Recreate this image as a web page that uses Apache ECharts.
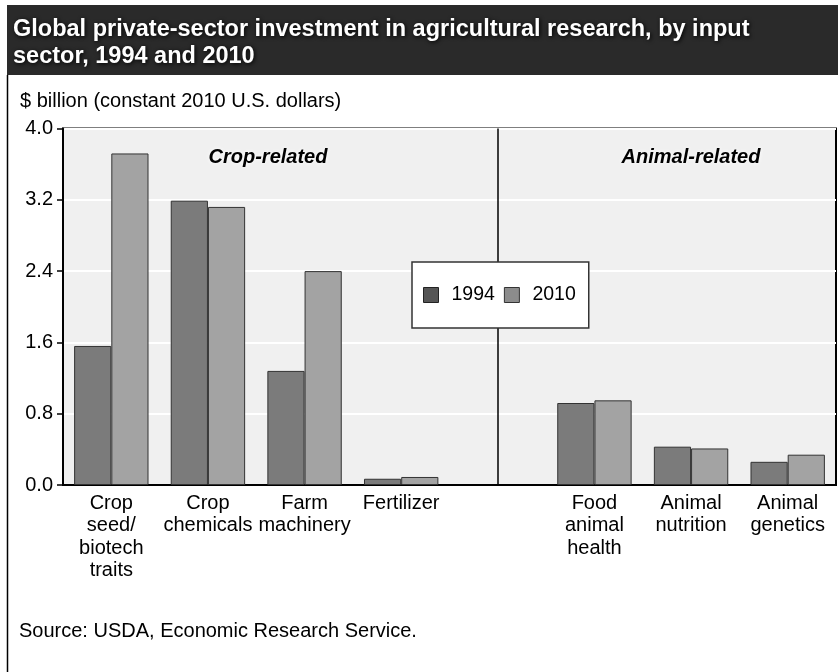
<!DOCTYPE html>
<html>
<head>
<meta charset="utf-8">
<script src="https://cdn.jsdelivr.net/npm/echarts@6/dist/echarts.min.js"></script>
<style>
html,body{margin:0;padding:0;background:#fff;}
#chart{width:838px;height:672px;}
</style>
</head>
<body>
<div id="chart"></div>
<script>
const categories = ['Crop\nseed/\nbiotech\ntraits', 'Crop\nchemicals', 'Farm\nmachinery', 'Fertilizer', '', 'Food\nanimal\nhealth', 'Animal\nnutrition', 'Animal\ngenetics'];
const values1994 = [1.56, 3.19, 1.28, 0.07, null, 0.92, 0.43, 0.26];
const values2010 = [3.72, 3.12, 2.40, 0.09, null, 0.95, 0.41, 0.34];
const yTicks = [0, 0.8, 1.6, 2.4, 3.2, 4.0];
const dividerIndex = 4;
const titleText = 'Global private-sector investment in agricultural research, by input\nsector, 1994 and 2010';
const unitText = '$ billion (constant 2010 U.S. dollars)';
const sourceText = 'Source: USDA, Economic Research Service.';
const groupLabels = ['Crop-related', 'Animal-related'];

const FONT = '"Liberation Sans", Arial, sans-serif';
const chart = echarts.init(document.getElementById('chart'));

const option = {
  animation: false,
  backgroundColor: '#ffffff',
  textStyle: { fontFamily: FONT },
  graphic: [
    { type: 'rect', shape: { x: 7, y: 5, width: 831, height: 70 }, style: { fill: '#2a2a2a' }, z: 0 },
    { type: 'line', shape: { x1: 7.5, y1: 75, x2: 7.5, y2: 672 }, style: { stroke: '#000', lineWidth: 1.5 }, z: 0 },
    { type: 'text', left: 13, top: 16, z: 5, style: {
        text: titleText, fill: '#ffffff', font: 'bold 23.5px ' + FONT,
        lineHeight: 27, textShadowColor: '#000', textShadowBlur: 4, textShadowOffsetX: 1, textShadowOffsetY: 1 } },
    { type: 'text', left: 20, top: 91, z: 5, style: { text: unitText, fill: '#000', font: '20px ' + FONT } },
    { type: 'text', left: 19, top: 621, z: 5, style: { text: sourceText, fill: '#000', font: '20px ' + FONT } },
    { type: 'text', x: 268, y: 157, z: 5, style: { text: groupLabels[0], fill: '#000', font: 'italic bold 20px ' + FONT,
        textAlign: 'center', textVerticalAlign: 'middle', textShadowColor: '#fff', textShadowBlur: 4 } },
    { type: 'text', x: 691, y: 157, z: 5, style: { text: groupLabels[1], fill: '#000', font: 'italic bold 20px ' + FONT,
        textAlign: 'center', textVerticalAlign: 'middle', textShadowColor: '#fff', textShadowBlur: 4 } }
  ],
  legend: {
    left: 412, top: 262,
    orient: 'horizontal',
    backgroundColor: '#ffffff',
    borderColor: '#333',
    borderWidth: 1.5,
    padding: [23, 13, 23, 11],
    itemWidth: 15, itemHeight: 15, itemGap: 9,
    icon: 'rect',
    textStyle: { fontSize: 19.5, color: '#000', fontFamily: FONT, padding: [0, 0, 0, 8] },
    data: [
      { name: '1994', itemStyle: { color: '#555555', borderColor: '#222', borderWidth: 1 } },
      { name: '2010', itemStyle: { color: '#8c8c8c', borderColor: '#333', borderWidth: 1 } }
    ],
    z: 10
  },
  grid: {
    left: 63, top: 128.5, right: 2, bottom: 187,
    show: true, backgroundColor: '#f0f0f0', borderColor: '#000', borderWidth: 2, containLabel: false
  },
  xAxis: {
    type: 'category',
    data: categories,
    axisLine: { show: true, lineStyle: { color: '#000', width: 2 } },
    axisTick: { show: false },
    axisLabel: { color: '#000', fontSize: 20, lineHeight: 22.5, margin: 7, interval: 0, fontFamily: FONT },
    splitLine: { show: false }
  },
  yAxis: {
    type: 'value',
    min: yTicks[0], max: yTicks[yTicks.length - 1], interval: 0.8,
    axisLine: { show: true, lineStyle: { color: '#000', width: 2 } },
    axisTick: { show: true, length: 6, lineStyle: { color: '#000', width: 1.5 } },
    axisLabel: { color: '#000', fontSize: 20, margin: 10, fontFamily: FONT, formatter: v => v.toFixed(1) },
    splitLine: { show: true, lineStyle: { color: '#ffffff', width: 2 } }
  },
  series: [
    {
      name: '1994', type: 'bar', data: values1994,
      barGap: '0%', barCategoryGap: '23%',
      itemStyle: { color: '#7b7b7b', borderColor: '#333333', borderWidth: 1 }
    },
    {
      name: '2010', type: 'bar', data: values2010,
      barGap: '0%', barCategoryGap: '23%',
      itemStyle: { color: '#a3a3a3', borderColor: '#333333', borderWidth: 1 }
    },
    {
      name: 'divider', type: 'line', data: categories.map(() => null),
      silent: true, showSymbol: false, legendHoverLink: false,
      markLine: {
        silent: true, symbol: 'none', label: { show: false },
        lineStyle: { color: '#000', width: 1.5, type: 'solid' },
        data: [{ xAxis: dividerIndex }]
      }
    }
  ]
};
chart.setOption(option);
</script>
</body>
</html>
